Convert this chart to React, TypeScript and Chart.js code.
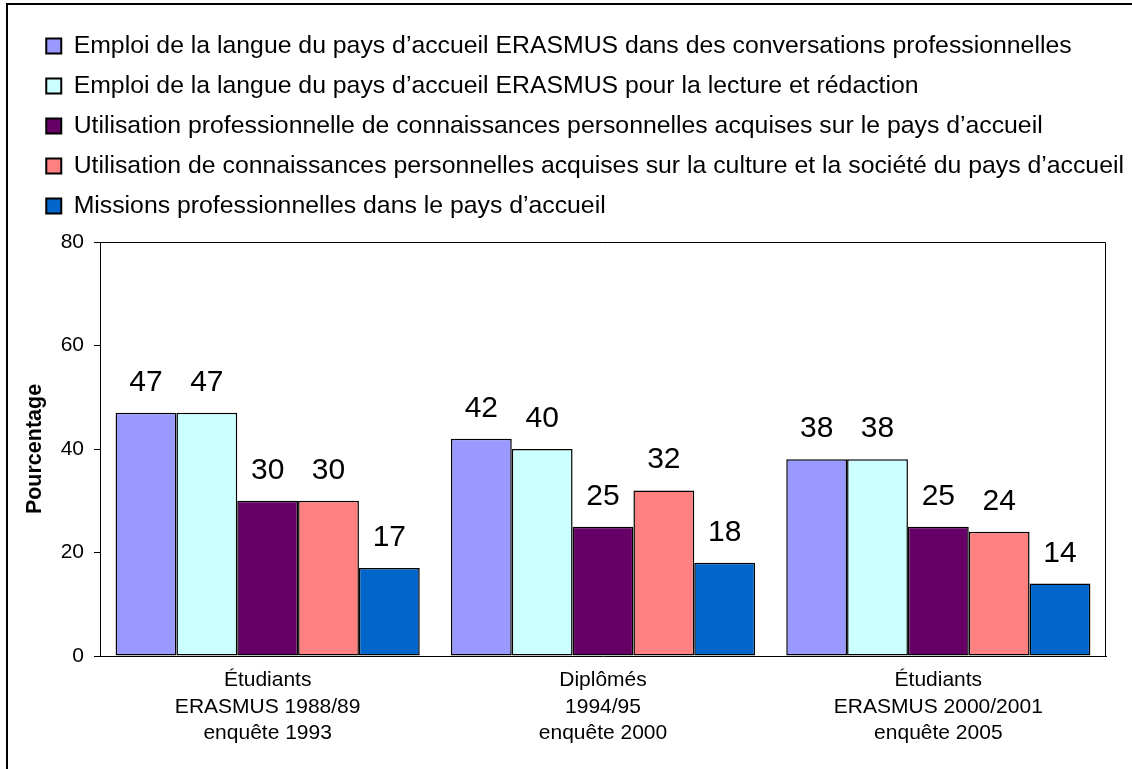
import { useEffect, useRef } from "react";
import { Chart, registerables } from "chart.js";

Chart.register(...registerables);

const FONT = "'Liberation Sans', Arial, Helvetica, sans-serif";

const categories = [
  ["Étudiants", "ERASMUS 1988/89", "enquête 1993"],
  ["Diplômés", "1994/95", "enquête 2000"],
  ["Étudiants", "ERASMUS 2000/2001", "enquête 2005"],
];

const seriesLabels = [
  "Emploi de la langue du pays d\u2019accueil ERASMUS dans des conversations professionnelles",
  "Emploi de la langue du pays d\u2019accueil ERASMUS pour la lecture et rédaction",
  "Utilisation professionnelle de connaissances personnelles acquises sur le pays d\u2019accueil",
  "Utilisation de connaissances personnelles acquises sur la culture et la société du pays d\u2019accueil",
  "Missions professionnelles dans le pays d\u2019accueil",
];

const conversations = [47, 42, 38];
const lectureRedaction = [47, 40, 38];
const connaissancesPays = [30, 25, 25];
const cultureSociete = [30, 32, 24];
const missions = [17, 18, 14];

const seriesColors = ["#9999FF", "#CCFFFF", "#660066", "#FF8080", "#0066CC"];

const yMin = 0;
const yMax = 80;
const yStep = 20;
const yTitle = "Pourcentage";

const valueLabels = {
  id: "valueLabels",
  afterDatasetsDraw(chart: any) {
    const ctx = chart.ctx;
    ctx.save();
    ctx.font = `30px ${FONT}`;
    ctx.fillStyle = "#000";
    ctx.textAlign = "center";
    ctx.textBaseline = "alphabetic";
    chart.data.datasets.forEach((ds: any, i: number) => {
      const meta = chart.getDatasetMeta(i);
      meta.data.forEach((bar: any, j: number) => {
        ctx.fillText(String(ds.data[j]), bar.x, bar.y - 22);
      });
    });
    ctx.restore();
  },
};

const plotFrame = {
  id: "plotFrame",
  afterDraw(chart: any) {
    const { left, top, right, bottom } = chart.chartArea;
    const ctx = chart.ctx;
    ctx.save();
    ctx.strokeStyle = "#000";
    ctx.lineWidth = 1;
    ctx.beginPath();
    ctx.moveTo(left, top + 0.5);
    ctx.lineTo(right - 0.5, top + 0.5);
    ctx.lineTo(right - 0.5, bottom);
    ctx.stroke();
    ctx.restore();
  },
};

const legendBox = {
  id: "legendBox",
  beforeInit(chart: any) {
    const legend = chart.legend;
    if (!legend) return;
    const orig = legend.fit;
    legend.fit = function () {
      orig.call(this);
      this.height = 223.75;
    };
  },
  afterLayout(chart: any) {
    const legend = chart.legend;
    if (!legend) return;
    legend.right = chart.width;
    legend.width = legend.right - legend.left;
  },
};

export default function App() {
  const canvasRef = useRef<HTMLCanvasElement | null>(null);

  useEffect(() => {
    document.body.style.margin = "0";
    document.body.style.overflow = "hidden";
    const canvas = canvasRef.current;
    if (!canvas) return;
    const seriesValues = [conversations, lectureRedaction, connaissancesPays, cultureSociete, missions];
    const chart = new Chart(canvas, {
      type: "bar",
      data: {
        labels: categories,
        datasets: seriesValues.map((vals, i) => ({
          label: seriesLabels[i],
          data: vals,
          backgroundColor: seriesColors[i],
          borderColor: "#000",
          borderWidth: 1.5,
          borderSkipped: false,
          categoryPercentage: 0.907,
          barPercentage: 1,
        })),
      },
      options: {
        responsive: false,
        animation: false,
        events: [],
        layout: { padding: { left: 31, top: 18.25, right: 26, bottom: 0 } },
        plugins: {
          tooltip: { enabled: false },
          legend: {
            display: true,
            position: "top",
            align: "start",
            labels: {
              boxWidth: 15,
              boxHeight: 15,
              padding: 15.25,
              color: "#000",
              font: { family: FONT, size: 24.8 },
              generateLabels(chart: any) {
                return chart.data.datasets.map((ds: any, i: number) => ({
                  text: ds.label,
                  fillStyle: ds.backgroundColor,
                  strokeStyle: "#000",
                  lineWidth: 2,
                  hidden: false,
                  datasetIndex: i,
                  fontColor: "#000",
                }));
              },
            },
          },
        },
        scales: {
          x: {
            grid: { display: false, drawTicks: false },
            border: { display: true, color: "#000", width: 1 },
            ticks: {
              color: "#000",
              padding: 11,
              font: { family: FONT, size: 21, lineHeight: 1.27 },
              maxRotation: 0,
              autoSkip: false,
            },
            afterFit(scale: any) {
              scale.height = 113;
            },
          },
          y: {
            min: yMin,
            max: yMax,
            ticks: {
              stepSize: yStep,
              color: "#000",
              padding: 10,
              font: { family: FONT, size: 21 },
            },
            grid: {
              display: true,
              drawOnChartArea: false,
              drawTicks: true,
              tickLength: 6,
              color: "#000",
            },
            border: { display: true, color: "#000", width: 1 },
            title: {
              display: true,
              text: yTitle,
              color: "#000",
              font: { family: FONT, size: 21.5, weight: "bold", lineHeight: 1.2 },
              padding: { top: -8.9, bottom: 0 },
            },
            afterFit(scale: any) {
              scale.width = 69;
            },
          },
        },
      },
      plugins: [valueLabels, plotFrame, legendBox],
    } as any);
    return () => chart.destroy();
  }, []);

  return (
    <div
      style={{
        position: "fixed",
        left: 0,
        top: 0,
        width: 1132,
        height: 769,
        overflow: "hidden",
        background: "#fff",
      }}
    >
      <div
        style={{
          position: "absolute",
          left: 6,
          top: 3,
          width: 1400,
          height: 1000,
          border: "2px solid #000",
        }}
      />
      <canvas
        ref={canvasRef}
        width={1132}
        height={769}
        style={{ position: "absolute", left: 0, top: 0, display: "block" }}
      />
    </div>
  );
}
